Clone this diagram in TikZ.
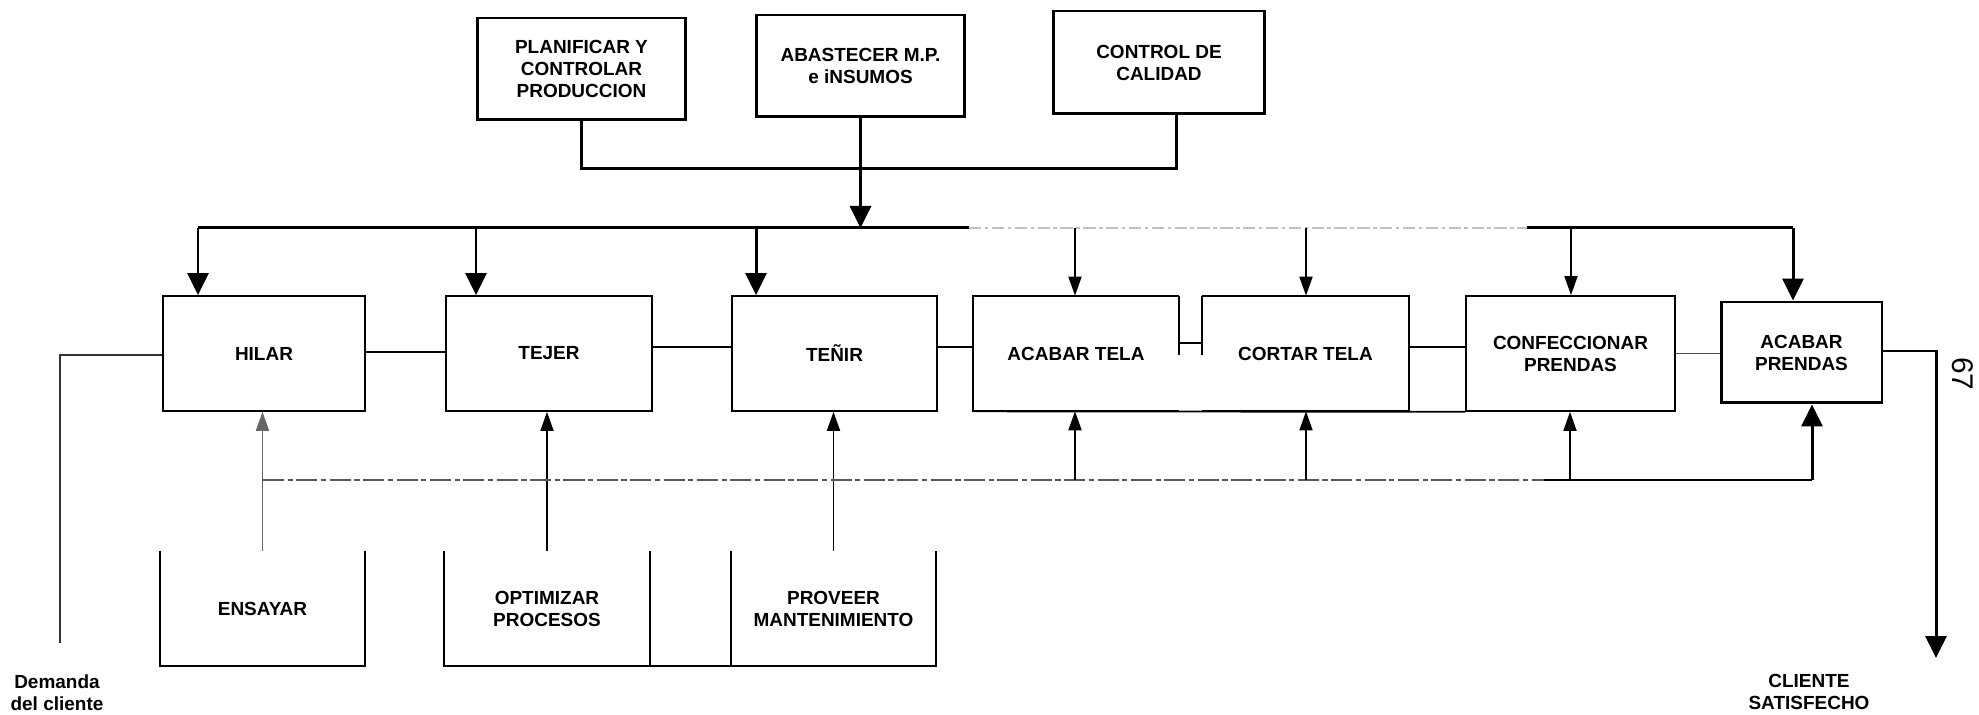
\documentclass[tikz,border=0pt]{standalone}
\usepackage{fontspec}
\setmainfont{Liberation Sans}
\usetikzlibrary{arrows.meta}
\begin{document}
\begin{tikzpicture}[x=0.02cm, y=-0.02cm,
  lbl/.style={font=\fontsize{10.8}{12.5}\selectfont\bfseries, align=center, inner sep=0pt},
  heavybox/.style={lbl, draw, line width=1.7pt},
  lightbox/.style={lbl, draw, line width=1pt},
  openbox/.style={lbl},
  heavy/.style={line width=1.7pt},
  mid/.style={line width=1.2pt},
  light/.style={line width=1pt},
  faint/.style={line width=0.6pt, gray!50, dash pattern=on 7pt off 2pt on 2pt off 2pt},
  dimline/.style={line width=0.8pt, black!65, dash pattern=on 12pt off 2pt on 3pt off 2pt},
  bigtip/.style={-{Triangle[width=0.42cm,length=0.44cm]}},
  smalltip/.style={-{Triangle[width=0.26cm,length=0.38cm]}},
]
\useasboundingbox (0,0) rectangle (1979,715);

% --- supporting processes (top)
\node[heavybox, minimum width=4.18cm, minimum height=2.04cm] (plan) at (581.5,69) {PLANIFICAR Y\\CONTROLAR\\PRODUCCION};
\node[heavybox, minimum width=4.18cm, minimum height=2.04cm] (abas) at (860.5,66) {ABASTECER M.P.\\e iNSUMOS};
\node[heavybox, minimum width=4.24cm, minimum height=2.06cm] (ctrl) at (1159,62.5) {CONTROL DE\\CALIDAD};

% --- main chain
\node[lightbox, minimum width=4.04cm, minimum height=2.30cm] (hilar) at (264,353.5) {HILAR};
\node[lightbox, minimum width=4.12cm, minimum height=2.30cm] (tejer) at (549,353.5) {TEJER};
\node[lightbox, minimum width=4.10cm, minimum height=2.30cm] (tenir) at (834.5,353.5) {TEÑIR};
\node[openbox, minimum width=4.12cm, minimum height=2.30cm] (acabt) at (1076,353.5) {ACABAR TELA};
\node[openbox, minimum width=4.14cm, minimum height=2.30cm] (cortt) at (1305.5,353.5) {CORTAR TELA};
\node[lightbox, minimum width=4.18cm, minimum height=2.30cm] (confec) at (1570.5,353.5) {CONFECCIONAR\\PRENDAS};
\node[heavybox, minimum width=3.22cm, minimum height=2.02cm] (acabp) at (1801.5,352.5) {ACABAR\\PRENDAS};

% --- support activities (bottom)
\node[openbox, minimum width=4.10cm, minimum height=2.30cm] (ensayar) at (262.5,608.5) {ENSAYAR};
\node[openbox, minimum width=4.12cm, minimum height=2.30cm] (optim) at (547,608.5) {OPTIMIZAR\\PROCESOS};
\node[openbox, minimum width=4.10cm, minimum height=2.30cm] (prov) at (833.5,608.5) {PROVEER\\MANTENIMIENTO};

% --- free labels
\node[lbl] (dem) at (57,693) {Demanda\\del cliente};
\node[lbl] (cli) at (1809,692) {CLIENTE\\SATISFECHO};
\node[font=\fontsize{17}{17}\selectfont, rotate=-90, inner sep=0pt] (pg) at (1963,374) {67};

% --- partial outlines
\draw[light] (acabt.north east) -- (acabt.north west) -- (acabt.south west) -- (acabt.south east);
\draw[light] (acabt.north east) -- ([yshift=-0.03cm]acabt.east);
\draw[light] (cortt.north west) -- (cortt.north east) -- (cortt.south east) -- (cortt.south west);
\draw[light] (cortt.north west) -- ([yshift=-0.03cm]cortt.west);
\draw[light] (acabt.south west) -- (confec.south west);
\draw[light] (ensayar.north west) -- (ensayar.south west) -- (ensayar.south east) -- (ensayar.north east);
\draw[light] (optim.north west) -- (optim.south west) -- (prov.south east) -- (prov.north east);
\draw[light] (optim.north east) -- (optim.south east);
\draw[light] (prov.north west) -- (prov.south west);

% --- collector of the top processes
\coordinate (tj) at (0,169);
\coordinate (cf) at (1176,0);
\draw[heavy] (plan.south) -- (plan.south |- tj) -| (ctrl.south -| cf);

% --- distribution bus
\coordinate (bA) at (198,228);
\coordinate (bB) at (476,228);
\coordinate (bC) at (756,228);
\coordinate (bD) at (969,228);
\coordinate (bE) at (1075,228);
\coordinate (bF) at (1306,228);
\coordinate (bG) at (1527,228);
\coordinate (bH) at (1571,228);
\coordinate (bI) at (1793,228);
\draw[heavy, bigtip] (abas.south) -- (abas.south |- bA);
\draw[heavy] (bA) -- (bD);
\draw[faint] (bD) -- (bG);
\draw[heavy] (bG) -- (bI);
\draw[heavy, bigtip] (bA) -- (bA |- hilar.north);
\draw[heavy, bigtip] (bB) -- (bB |- tejer.north);
\draw[heavy, bigtip] (bC) -- (bC |- tenir.north);
\draw[light, smalltip] (bE) -- (bE |- acabt.north);
\draw[light, smalltip] (bF) -- (bF |- cortt.north);
\draw[light, smalltip] (bH) -- (bH |- confec.north);
\draw[heavy, bigtip] (bI) -- (bI |- acabp.north);

% --- flow between the main steps
\draw[heavy] ([yshift=0.03cm]hilar.east) -- ([yshift=0.03cm]tejer.west);
\draw[heavy] ([yshift=0.13cm]tejer.east) -- ([yshift=0.13cm]tenir.west);
\draw[heavy] ([yshift=0.13cm]tenir.east) -- ([yshift=0.13cm]acabt.west);
\draw[mid] ([yshift=0.21cm]acabt.east) -- ([yshift=0.21cm]cortt.west);
\draw[heavy] ([yshift=0.13cm]cortt.east) -- ([yshift=0.13cm]confec.west);
\draw[light, black!70] (confec.east) -- (confec.east -| acabp.west);

% --- customer demand and delivery
\coordinate (dTop) at (60,355);
\coordinate (dEnd) at (60,643);
\draw[light, black!80] (hilar.west |- dTop) -- (dTop) -- (dEnd);
\coordinate (oR) at (1936,351);
\coordinate (oEnd) at (1936,658);
\draw[heavy, bigtip] (acabp.east |- oR) -- (oR) -- (oEnd);

% --- support bus (bottom)
\coordinate (lA) at (263,480);
\coordinate (lB) at (1075,480);
\coordinate (lC) at (1306,480);
\coordinate (lD) at (1544,480);
\coordinate (lE) at (1570,480);
\coordinate (lF) at (1812,480);
\draw[light, black!60, smalltip] (ensayar.north) -- (ensayar.north |- hilar.south);
\draw[light, smalltip] (optim.north) -- (optim.north |- tejer.south);
\draw[light, smalltip] (prov.north) -- (prov.north |- tenir.south);
\draw[dimline] (lA) -- (lE);
\draw[heavy] (lD) -- (lF);
\draw[mid, smalltip] (lB) -- (lB |- acabt.south);
\draw[light, smalltip] (lC) -- (lC |- cortt.south);
\draw[light, smalltip] (lE) -- (lE |- confec.south);
\draw[heavy, bigtip] (lF) -- (lF |- acabp.south);
\end{tikzpicture}
\end{document}
